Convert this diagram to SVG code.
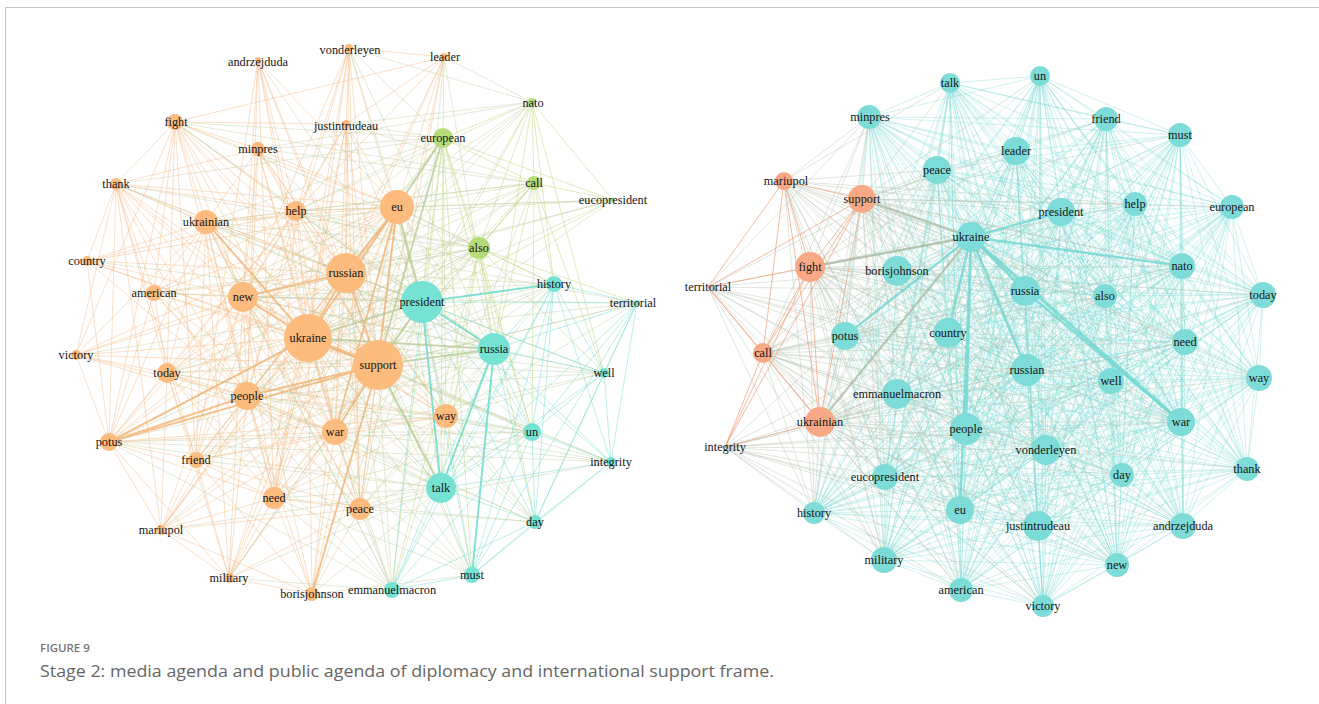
<svg xmlns="http://www.w3.org/2000/svg" width="1319" height="704" viewBox="0 0 1319 704">
<style>
.e{fill:none;stroke-linecap:round}
.eo{stroke:#f5b276;stroke-opacity:.45;stroke-width:.9}
.eot{stroke:#f5ad6a;stroke-opacity:.65;stroke-width:2}
.em{stroke:#bfcc9c;stroke-opacity:.45;stroke-width:.9}
.emt{stroke:#b3c990;stroke-opacity:.65;stroke-width:2}
.eg{stroke:#bfd77f;stroke-opacity:.55;stroke-width:.9}
.et{stroke:#6cdcca;stroke-opacity:.5;stroke-width:.9}
.ett{stroke:#5fd8c6;stroke-opacity:.7;stroke-width:2}
.rt{stroke:#72d8d2;stroke-opacity:.37;stroke-width:.9}
.rtt{stroke:#6fd6d0;stroke-opacity:.75;stroke-width:2.4}
.rm{stroke:#b3c0ad;stroke-opacity:.45;stroke-width:.9}
.rmt{stroke:#a9bca3;stroke-opacity:.7;stroke-width:2.4}
.rs{stroke:#ef9f78;stroke-opacity:.7;stroke-width:1}
.no{fill:#fdbb7e}.nt{fill:#75e2d3}.ng{fill:#b5dc79}.rn{fill:#7edcd8}.rsn{fill:#f8a884}
text{font-family:"Liberation Serif","Times New Roman",serif;font-size:12.3px;fill:#161616;text-anchor:middle}
.cap1{font-family:"Open Sans","Liberation Sans",sans-serif;font-size:11.5px;font-weight:600;fill:#777;text-anchor:start}
.cap2{font-family:"Open Sans","Liberation Sans",sans-serif;font-size:15.5px;fill:#666;text-anchor:start}
</style>
<rect width="1319" height="704" fill="#fff"/>
<path d="M5.5 704V7.5H1319" fill="none" stroke="#c4c4c4" stroke-width="1"/>
<g id="connectors">
<g id="left-edges">
<path class="e eo" d="M258 60 308 338 349 48M444 57 308 338 175 122M346 124 308 338 258 149M116 184 308 338 296 211M397 207 308 338 206 222M87 261 308 338 346 273M154 293 308 338 243 297M378 365 308 338 76 355M167 373 308 338 247 396M446 416 308 338 335 432M109 442 308 338 196 460M274 498 308 338 360 509M161 530 308 338 229 578M308 338 312 594"/>
<path class="e eo" d="M258 60 378 365 349 48M444 57 378 365 175 122M346 124 378 365 258 149M116 184 378 365 296 211M397 207 378 365 206 222M87 261 378 365 346 273M154 293 378 365 243 297M76 355 378 365 167 373M247 396 378 365 446 416M335 432 378 365 109 442M196 460 378 365 274 498M360 509 378 365 161 530M229 578 378 365 312 594"/>
<path class="e eo" d="M258 60 346 273 349 48M444 57 346 273 175 122M346 124 346 273 258 149M116 184 346 273 296 211M397 207 346 273 206 222M87 261 346 273 154 293M243 297 346 273 76 355M167 373 346 273 247 396M446 416 346 273 335 432M109 442 346 273 196 460M274 498 346 273 360 509M161 530 346 273 229 578M346 273 312 594"/>
<path class="e eo" d="M258 60 397 207 349 48M444 57 397 207 175 122M346 124 397 207 258 149M116 184 397 207 296 211M206 222 397 207 87 261M154 293 397 207 243 297M76 355 397 207 167 373M247 396 397 207 446 416M335 432 397 207 109 442M196 460 397 207 274 498M360 509 397 207 161 530M229 578 397 207 312 594"/>
<path class="e eo" d="M258 60 243 297 349 48M175 122 243 297 346 124M258 149 243 297 116 184M296 211 243 297 206 222M87 261 243 297 154 293M76 355 243 297 167 373M247 396 243 297 446 416M335 432 243 297 109 442M196 460 243 297 274 498M360 509 243 297 161 530M229 578 243 297 312 594"/>
<path class="e eo" d="M258 60 247 396 349 48M175 122 247 396 258 149M116 184 247 396 296 211M206 222 247 396 87 261M154 293 247 396 76 355M167 373 247 396 446 416M335 432 247 396 109 442M196 460 247 396 274 498M360 509 247 396 161 530M229 578 247 396 312 594"/>
<path class="e eo" d="M258 60 296 211 349 48M444 57 296 211 175 122M346 124 296 211 258 149M116 184 296 211 206 222M87 261 296 211 154 293M167 373 296 211 335 432M109 442 296 211 196 460M274 498 296 211 446 416"/>
<path class="e eo" d="M175 122 206 222 258 149M116 184 206 222 87 261M154 293 206 222 76 355M167 373 206 222 335 432M109 442 206 222 196 460M274 498 206 222 360 509M446 416 206 222 229 578"/>
<path class="e eo" d="M258 60 335 432 349 48M175 122 335 432 258 149M116 184 335 432 154 293M76 355 335 432 167 373M109 442 335 432 196 460M274 498 335 432 360 509M161 530 335 432 229 578M312 594 335 432 446 416"/>
<path class="e eo" d="M346 124 175 122 258 149M116 184 175 122 154 293M167 373 175 122 109 442M196 460 175 122 76 355M446 416 175 122 444 57M87 261 116 184 154 293M76 355 116 184 167 373M109 442 116 184 196 460M274 498 116 184 161 530M116 184 258 149M76 355 109 442 167 373M196 460 109 442 274 498M161 530 109 442 229 578M154 293 109 442 87 261M109 442 446 416M76 355 167 373 154 293M196 460 167 373 274 498M161 530 167 373 229 578M167 373 446 416"/>
<path class="e eo" d="M349 48 444 57M346 124 444 57M258 149 446 416M274 498 312 594M161 530 229 578 312 594 360 509M349 48 274 498M349 48 360 509M258 60 274 498M444 57 360 509M346 124 360 509M346 124 274 498M274 498 196 460 360 509M161 530 196 460 229 578M312 594 196 460 446 416M360 509 274 498 229 578M161 530 274 498 446 416M229 578 360 509 161 530M446 416 360 509 154 293M161 530 312 594M258 60 196 460"/>
<path class="e em" d="M532 102 308 338 443 138M534 183 308 338 613 200M479 248 308 338 554 284M422 302 308 338 637 303M494 349 308 338 604 373M532 432 308 338 611 462M441 488 308 338 535 522M472 575 308 338 392 590"/>
<path class="e em" d="M532 102 378 365 443 138M534 183 378 365 613 200M479 248 378 365 554 284M422 302 378 365 637 303M494 349 378 365 604 373M532 432 378 365 611 462M441 488 378 365 535 522M472 575 378 365 392 590"/>
<path class="e em" d="M532 102 346 273 443 138M534 183 346 273 613 200M479 248 346 273 554 284M422 302 346 273 494 349M604 373 346 273 532 432M441 488 346 273 535 522M472 575 346 273 392 590M532 102 397 207 443 138M534 183 397 207 479 248M422 302 397 207 494 349M554 284 397 207 441 488M532 432 397 207 613 200"/>
<path class="e em" d="M258 60 422 302 349 48M444 57 422 302 175 122M346 124 422 302 258 149M116 184 422 302 296 211M206 222 422 302 87 261M154 293 422 302 243 297M76 355 422 302 167 373M247 396 422 302 446 416M335 432 422 302 109 442M196 460 422 302 274 498M360 509 422 302 161 530M229 578 422 302 312 594"/>
<path class="e em" d="M296 211 494 349 206 222M243 297 494 349 247 396M167 373 494 349 446 416M335 432 494 349 274 498M360 509 494 349 109 442M196 460 494 349 116 184M175 122 494 349 444 57M494 349 349 48M247 396 441 488 243 297M335 432 441 488 274 498M360 509 441 488 312 594M229 578 441 488 161 530M446 416 441 488 167 373M109 442 441 488 196 460M206 222 441 488 296 211M247 396 392 590 335 432M360 509 392 590 274 498M229 578 392 590 446 416M167 373 392 590 109 442M243 297 392 590 206 222M335 432 472 575 360 509M446 416 472 575 274 498M247 396 472 575 312 594"/>
<path class="e em" d="M349 48 443 138 444 57M346 124 443 138 258 149M296 211 443 138 206 222M175 122 443 138 243 297M247 396 443 138 446 416M335 432 443 138 116 184M444 57 532 102 349 48M296 211 532 102 243 297M258 149 532 102 346 124M296 211 534 183 206 222M243 297 534 183 247 396M175 122 534 183 258 149M346 124 534 183 446 416M296 211 479 248 243 297M247 396 479 248 206 222M175 122 479 248 335 432M446 416 479 248 167 373M109 442 479 248 154 293M479 248 116 184M296 211 613 200 243 297M613 200 206 222"/>
<path class="e em" d="M243 297 554 284 247 396M296 211 554 284 446 416M554 284 335 432M247 396 532 432 335 432M446 416 532 432 360 509M274 498 532 432 243 297M167 373 532 432 109 442M247 396 604 373 243 297M446 416 604 373 335 432M247 396 611 462 335 432M446 416 611 462 109 442M611 462 360 509M247 396 535 522 335 432M446 416 535 522 274 498M535 522 360 509M243 297 637 303 247 396M446 416 637 303 206 222"/>
<path class="e eg" d="M532 102 443 138 534 183M479 248 443 138 613 200M532 102 534 183 479 248M532 102 479 248M532 102 613 200 534 183M443 138 422 302 479 248M494 349 479 248 534 183 494 349M443 138 494 349M532 102 554 284M534 183 554 284 479 248M532 102 494 349M443 138 441 488 479 248M534 183 422 302M613 200 422 302M532 102 422 302M443 138 532 432 479 248M534 183 532 432M443 138 392 590 479 248M479 248 637 303M534 183 604 373 479 248M443 138 472 575M479 248 535 522M532 102 604 373"/>
<path class="e et" d="M554 284 422 302 637 303M494 349 422 302 604 373M532 432 422 302 611 462M441 488 422 302 535 522M472 575 422 302 392 590M554 284 494 349 637 303M604 373 494 349 532 432M611 462 494 349 441 488M535 522 494 349 472 575M494 349 392 590M554 284 441 488 637 303M604 373 441 488 532 432M611 462 441 488 535 522M472 575 441 488 392 590M554 284 532 432 637 303M604 373 532 432 611 462M535 522 532 432 472 575M532 432 392 590M637 303 554 284 604 373M611 462 554 284 535 522M472 575 554 284 392 590M604 373 637 303 611 462M535 522 637 303 472 575M604 373 611 462 535 522 604 373M535 522 472 575 392 590 535 522M611 462 472 575"/>
<path class="e eot" d="M308 338 346 273M378 365 346 273M378 365 397 207M346 273 397 207M308 338 397 207M378 365 247 396M308 338 109 442M378 365 109 442M308 338 243 297M308 338 206 222M378 365 335 432M378 365 312 594M397 207 335 432M346 273 243 297M247 396 109 442"/>
<path class="e eot" style="stroke-width:4" d="M308 338 378 365"/>
<path class="e emt" d="M422 302 378 365M422 302 308 338M422 302 397 207M378 365 494 349M378 365 441 488M308 338 494 349M443 138 378 365M443 138 397 207"/>
<path class="e ett" d="M422 302 494 349M422 302 441 488M494 349 441 488M422 302 554 284M494 349 472 575"/>
</g>
<g id="right-edges">
<polygon class="e rt" points="950 83 1040 76 1106 119 1180 135 1232 207 1263 295 1259 378 1247 469 1183 526 1117 565 1043 606 961 590 884 560 814 513 885 477 897 394 845 336 897 271 869 117 937 170 1016 151 1061 212 1135 204 1182 266 1185 342 1181 422 1122 475 1038 526 960 510 966 429 1046 450 1111 381 1027 370 1105 296 1025 291 948 333 971 237"/>
<polygon class="e rt" points="950 83 1106 119 1232 207 1259 378 1183 526 1043 606 884 560 885 477 845 336 869 117 1016 151 1135 204 1185 342 1122 475 960 510 1046 450 1027 370 1025 291 971 237 1040 76 1180 135 1263 295 1247 469 1117 565 961 590 814 513 897 394 897 271 937 170 1061 212 1182 266 1181 422 1038 526 966 429 1111 381 1105 296 948 333"/>
<polygon class="e rt" points="950 83 1180 135 1259 378 1117 565 884 560 897 394 869 117 1061 212 1185 342 1038 526 1046 450 1105 296 971 237 1106 119 1263 295 1183 526 961 590 885 477 897 271 1016 151 1182 266 1122 475 966 429 1027 370 948 333 1040 76 1232 207 1247 469 1043 606 814 513 845 336 937 170 1135 204 1181 422 960 510 1111 381 1025 291"/>
<polygon class="e rt" points="950 83 1232 207 1183 526 884 560 845 336 1016 151 1185 342 960 510 1027 370 971 237 1180 135 1247 469 961 590 897 394 937 170 1182 266 1038 526 1111 381 948 333 1106 119 1259 378 1043 606 885 477 869 117 1135 204 1122 475 1046 450 1025 291 1040 76 1263 295 1117 565 814 513 897 271 1061 212 1181 422 966 429 1105 296"/>
<polygon class="e rt" points="950 83 1263 295 1043 606 897 394 1016 151 1181 422 1046 450 948 333 1180 135 1183 526 814 513 869 117 1182 266 960 510 1105 296 1040 76 1259 378 961 590 845 336 1061 212 1122 475 1111 381 971 237 1232 207 1117 565 885 477 937 170 1185 342 966 429 1025 291 1106 119 1247 469 884 560 897 271 1135 204 1038 526 1027 370"/>
<polygon class="e rt" points="950 83 1259 378 884 560 869 117 1185 342 1046 450 971 237 1263 295 961 590 897 271 1182 266 966 429 948 333 1232 207 1043 606 845 336 1135 204 960 510 1025 291 1180 135 1117 565 897 394 1061 212 1038 526 1105 296 1106 119 1183 526 885 477 1016 151 1122 475 1027 370 1040 76 1247 469 814 513 937 170 1181 422 1111 381"/>
<polygon class="e rt" points="950 83 1247 469 885 477 1061 212 960 510 948 333 1263 295 884 560 937 170 1122 475 1105 296 1180 135 1043 606 897 271 1185 342 1111 381 1040 76 1183 526 897 394 1135 204 966 429 971 237 1259 378 814 513 1016 151 1038 526 1025 291 1232 207 961 590 869 117 1181 422 1027 370 1106 119 1117 565 845 336 1182 266 1046 450"/>
<polygon class="e rt" points="950 83 1183 526 845 336 1185 342 1027 370 1180 135 961 590 937 170 1038 526 948 333 1259 378 885 477 1135 204 1046 450 1040 76 1117 565 897 271 1181 422 1105 296 1232 207 884 560 1016 151 960 510 971 237 1247 469 897 394 1182 266 1111 381 1106 119 1043 606 869 117 1122 475 1025 291 1263 295 814 513 1061 212 966 429"/>
<polygon class="e rt" points="950 83 1117 565 869 117 1038 526 971 237 1183 526 897 271 1122 475 948 333 1247 469 845 336 1181 422 1025 291 1259 378 897 394 1185 342 1105 296 1263 295 885 477 1182 266 1027 370 1232 207 814 513 1135 204 1111 381 1180 135 884 560 1061 212 1046 450 1106 119 961 590 1016 151 966 429 1040 76 1043 606 937 170 960 510"/>
<polygon class="e rt" points="950 83 1043 606 1016 151 1046 450 1180 135 814 513 1182 266 1105 296 1259 378 845 336 1122 475 971 237 1117 565 937 170 966 429 1106 119 884 560 1135 204 1027 370 1263 295 897 394 1181 422 948 333 1183 526 869 117 960 510 1040 76 961 590 1061 212 1111 381 1232 207 885 477 1185 342 1025 291 1247 469 897 271 1038 526"/>
<polygon class="e rt" points="950 83 961 590 1135 204 1105 296 1247 469 869 117 966 429 1180 135 885 477 1181 422 971 237 1043 606 1061 212 1027 370 1259 378 897 271 960 510 1106 119 814 513 1185 342 948 333 1117 565 1016 151 1111 381 1263 295 845 336 1038 526 1040 76 884 560 1182 266 1025 291 1183 526 937 170 1046 450 1232 207 897 394 1122 475"/>
<polygon class="e rt" points="950 83 884 560 1185 342 971 237 961 590 1182 266 948 333 1043 606 1135 204 1025 291 1117 565 1061 212 1105 296 1183 526 1016 151 1027 370 1247 469 937 170 1111 381 1259 378 869 117 1046 450 1263 295 897 271 966 429 1232 207 845 336 960 510 1180 135 897 394 1038 526 1106 119 885 477 1122 475 1040 76 814 513 1181 422"/>
<polygon class="e rt" points="950 83 814 513 1122 475 1106 119 897 394 960 510 1232 207 897 271 1046 450 1259 378 937 170 1027 370 1183 526 1061 212 1025 291 1043 606 1182 266 971 237 884 560 1181 422 1040 76 885 477 1038 526 1180 135 845 336 966 429 1263 295 869 117 1111 381 1247 469 1016 151 1105 296 1117 565 1135 204 948 333 961 590 1185 342"/>
<polygon class="e rt" points="950 83 885 477 960 510 1263 295 937 170 1105 296 1043 606 1185 342 1040 76 897 394 966 429 1259 378 1016 151 1025 291 961 590 1181 422 1106 119 845 336 1046 450 1247 469 1061 212 948 333 884 560 1122 475 1180 135 897 271 1111 381 1183 526 1135 204 971 237 814 513 1038 526 1232 207 869 117 1027 370 1117 565 1182 266"/>
<polygon class="e rt" points="950 83 897 394 1046 450 1183 526 1182 266 1040 76 845 336 1111 381 1117 565 1185 342 1106 119 897 271 1027 370 1043 606 1181 422 1180 135 869 117 1105 296 961 590 1122 475 1232 207 937 170 1025 291 884 560 1038 526 1263 295 1016 151 948 333 814 513 960 510 1259 378 1061 212 971 237 885 477 966 429 1247 469 1135 204"/>
<polygon class="e rt" points="950 83 845 336 1027 370 961 590 1038 526 1259 378 1135 204 1040 76 897 271 1105 296 884 560 960 510 1247 469 1182 266 1106 119 869 117 1025 291 814 513 966 429 1183 526 1185 342 1180 135 937 170 948 333 885 477 1046 450 1117 565 1181 422 1232 207 1016 151 971 237 897 394 1111 381 1043 606 1122 475 1263 295 1061 212"/>
<polygon class="e rt" points="950 83 897 271 1025 291 885 477 1111 381 961 590 960 510 1183 526 1181 422 1263 295 1135 204 1106 119 937 170 971 237 845 336 1105 296 814 513 1046 450 1043 606 1038 526 1247 469 1185 342 1232 207 1061 212 1040 76 869 117 948 333 897 394 1027 370 884 560 966 429 1117 565 1122 475 1259 378 1182 266 1180 135 1016 151"/>
<polygon class="e rt" points="950 83 869 117 971 237 897 271 948 333 845 336 1025 291 897 394 1105 296 885 477 1027 370 814 513 1111 381 884 560 1046 450 961 590 966 429 1043 606 960 510 1117 565 1038 526 1183 526 1122 475 1247 469 1181 422 1259 378 1185 342 1263 295 1182 266 1232 207 1135 204 1180 135 1061 212 1106 119 1016 151 1040 76 937 170"/>
<path class="e rm" d="M869 117 784 181 937 170M950 83 784 181 971 237M897 271 784 181 845 336M948 333 784 181 897 394M966 429 784 181 885 477M814 513 784 181 960 510M1027 370 784 181 1061 212M1025 291 784 181 884 560M1135 204 784 181 1105 296M1046 450 784 181 1185 342M1181 422 784 181 1182 266"/>
<path class="e rm" d="M869 117 862 199 950 83M937 170 862 199 1016 151M971 237 862 199 1061 212M1135 204 862 199 897 271M845 336 862 199 948 333M1025 291 862 199 1105 296M1182 266 862 199 897 394M966 429 862 199 1027 370M885 477 862 199 814 513M960 510 862 199 884 560M961 590 862 199 1038 526M1046 450 862 199 1111 381M1185 342 862 199 1181 422M1122 475 862 199 1232 207M1263 295 862 199 1259 378M1117 565 862 199 1180 135M1040 76 862 199 1106 119"/>
<path class="e rm" d="M869 117 810 267 937 170M971 237 810 267 897 271M845 336 810 267 948 333M1025 291 810 267 1061 212M897 394 810 267 966 429M1027 370 810 267 885 477M814 513 810 267 960 510M884 560 810 267 961 590M1038 526 810 267 1046 450M1105 296 810 267 1182 266M1185 342 810 267 1181 422M1111 381 810 267 1122 475M1117 565 810 267 1183 526M1043 606 810 267 1016 151M1135 204 810 267 1263 295M810 267 1259 378"/>
<path class="e rm" d="M845 336 763 353 897 271M948 333 763 353 897 394M885 477 763 353 814 513M966 429 763 353 884 560M960 510 763 353 961 590M971 237 763 353 1025 291M1027 370 763 353 1046 450M1038 526 763 353 1043 606M1117 565 763 353 1122 475M1181 422 763 353 1111 381M1185 342 763 353 1105 296M1182 266 763 353 937 170M869 117 763 353 1061 212"/>
<path class="e rm" d="M897 394 820 422 845 336M897 271 820 422 885 477M814 513 820 422 884 560M961 590 820 422 960 510M966 429 820 422 948 333M971 237 820 422 1025 291M1027 370 820 422 1046 450M1038 526 820 422 1043 606M1117 565 820 422 1122 475M1181 422 820 422 1111 381M1185 342 820 422 1105 296M1182 266 820 422 1061 212M1183 526 820 422 1247 469M1259 378 820 422 1263 295M937 170 820 422 869 117"/>
<path class="e rm" d="M845 336 708 287 897 271M897 394 708 287 885 477M814 513 708 287 884 560M948 333 708 287 966 429M960 510 708 287 971 237M1025 291 708 287 1027 370M869 117 708 287 937 170M708 287 1181 422M814 513 725 447 885 477M897 394 725 447 845 336M884 560 725 447 961 590M960 510 725 447 966 429M948 333 725 447 1027 370M1046 450 725 447 1038 526M1043 606 725 447 1122 475M1181 422 725 447 1185 342M725 447 1117 565"/>
<path class="e rs" d="M810 267 708 287 763 353M820 422 708 287 784 181M708 287 862 199M763 353 725 447 820 422M810 267 725 447 862 199M763 353 784 181 810 267M820 422 784 181 862 199M810 267 862 199 820 422M763 353 862 199M810 267 820 422M810 267 763 353 820 422"/>
<path class="e rtt" d="M971 237 1025 291M971 237 1182 266M971 237 966 429M971 237 1027 370M971 237 948 333M971 237 960 510M1025 291 1181 422M971 237 1061 212M971 237 845 336"/>
<path class="e rtt" style="stroke-width:3.4" d="M971 237 1181 422"/>
<path class="e rmt" d="M971 237 810 267M971 237 820 422M971 237 862 199"/>
</g>
</g>
<g id="L-andrzejduda"><circle class="no" cx="258" cy="60" r="3"/><text x="258" y="66">andrzejduda</text></g>
<g id="L-vonderleyen"><circle class="no" cx="349" cy="48" r="4"/><text x="350" y="54">vonderleyen</text></g>
<g id="L-leader"><circle class="no" cx="444" cy="57" r="4"/><text x="445" y="61">leader</text></g>
<g id="L-nato"><circle class="ng" cx="532" cy="102" r="4"/><text x="533" y="107">nato</text></g>
<g id="L-fight"><circle class="no" cx="175" cy="122" r="8"/><text x="176" y="126">fight</text></g>
<g id="L-justintrudeau"><circle class="no" cx="346" cy="124" r="4"/><text x="346" y="130">justintrudeau</text></g>
<g id="L-european"><circle class="ng" cx="443" cy="138" r="10"/><text x="443" y="142">european</text></g>
<g id="L-minpres"><circle class="no" cx="258" cy="149" r="7"/><text x="258" y="153">minpres</text></g>
<g id="L-thank"><circle class="no" cx="116" cy="184" r="6"/><text x="116" y="188">thank</text></g>
<g id="L-call"><circle class="ng" cx="534" cy="183" r="7"/><text x="534" y="187">call</text></g>
<g id="L-eucopresident"><circle class="ng" cx="613" cy="200" r="2"/><text x="613" y="204">eucopresident</text></g>
<g id="L-help"><circle class="no" cx="296" cy="211" r="10"/><text x="296" y="215">help</text></g>
<g id="L-eu"><circle class="no" cx="397" cy="207" r="17"/><text x="397" y="211">eu</text></g>
<g id="L-ukrainian"><circle class="no" cx="206" cy="222" r="12"/><text x="206" y="226">ukrainian</text></g>
<g id="L-country"><circle class="no" cx="87" cy="261" r="5"/><text x="87" y="265">country</text></g>
<g id="L-also"><circle class="ng" cx="479" cy="248" r="11"/><text x="479" y="252">also</text></g>
<g id="L-russian"><circle class="no" cx="346" cy="273" r="20"/><text x="346" y="277">russian</text></g>
<g id="L-history"><circle class="nt" cx="554" cy="284" r="8"/><text x="554" y="288">history</text></g>
<g id="L-american"><circle class="no" cx="154" cy="293" r="8"/><text x="154" y="297">american</text></g>
<g id="L-new"><circle class="no" cx="243" cy="297" r="15"/><text x="243" y="301">new</text></g>
<g id="L-president"><circle class="nt" cx="422" cy="302" r="21"/><text x="422" y="306">president</text></g>
<g id="L-territorial"><circle class="nt" cx="637" cy="303" r="3"/><text x="633" y="307">territorial</text></g>
<g id="L-ukraine"><circle class="no" cx="308" cy="338" r="24"/><text x="308" y="342">ukraine</text></g>
<g id="L-support"><circle class="no" cx="378" cy="365" r="25"/><text x="378" y="369">support</text></g>
<g id="L-russia"><circle class="nt" cx="494" cy="349" r="16"/><text x="494" y="353">russia</text></g>
<g id="L-victory"><circle class="no" cx="76" cy="355" r="5"/><text x="76" y="359">victory</text></g>
<g id="L-today"><circle class="no" cx="167" cy="373" r="10"/><text x="167" y="377">today</text></g>
<g id="L-well"><circle class="nt" cx="604" cy="373" r="5"/><text x="604" y="377">well</text></g>
<g id="L-people"><circle class="no" cx="247" cy="396" r="14"/><text x="247" y="400">people</text></g>
<g id="L-way"><circle class="no" cx="446" cy="416" r="12"/><text x="446" y="420">way</text></g>
<g id="L-war"><circle class="no" cx="335" cy="432" r="13"/><text x="335" y="436">war</text></g>
<g id="L-un"><circle class="nt" cx="532" cy="432" r="9"/><text x="532" y="436">un</text></g>
<g id="L-potus"><circle class="no" cx="109" cy="442" r="9"/><text x="109" y="446">potus</text></g>
<g id="L-friend"><circle class="no" cx="196" cy="460" r="8"/><text x="196" y="464">friend</text></g>
<g id="L-integrity"><circle class="nt" cx="611" cy="462" r="5"/><text x="611" y="466">integrity</text></g>
<g id="L-talk"><circle class="nt" cx="441" cy="488" r="15"/><text x="441" y="492">talk</text></g>
<g id="L-need"><circle class="no" cx="274" cy="498" r="11"/><text x="274" y="502">need</text></g>
<g id="L-peace"><circle class="no" cx="360" cy="509" r="11"/><text x="360" y="513">peace</text></g>
<g id="L-day"><circle class="nt" cx="535" cy="522" r="7"/><text x="535" y="526">day</text></g>
<g id="L-mariupol"><circle class="no" cx="161" cy="530" r="5"/><text x="161" y="534">mariupol</text></g>
<g id="L-military"><circle class="no" cx="229" cy="578" r="5"/><text x="229" y="582">military</text></g>
<g id="L-must"><circle class="nt" cx="472" cy="575" r="8"/><text x="472" y="579">must</text></g>
<g id="L-borisjohnson"><circle class="no" cx="312" cy="594" r="7"/><text x="312" y="598">borisjohnson</text></g>
<g id="L-emmanuelmacron"><circle class="nt" cx="392" cy="590" r="8"/><text x="392" y="594">emmanuelmacron</text></g>
<g id="R-talk"><circle class="rn" cx="950" cy="83" r="10"/><text x="950" y="87">talk</text></g>
<g id="R-un"><circle class="rn" cx="1040" cy="76" r="10"/><text x="1040" y="80">un</text></g>
<g id="R-minpres"><circle class="rn" cx="869" cy="117" r="12"/><text x="870" y="121">minpres</text></g>
<g id="R-friend"><circle class="rn" cx="1106" cy="119" r="12"/><text x="1106" y="123">friend</text></g>
<g id="R-must"><circle class="rn" cx="1180" cy="135" r="12"/><text x="1180" y="139">must</text></g>
<g id="R-leader"><circle class="rn" cx="1016" cy="151" r="14"/><text x="1016" y="155">leader</text></g>
<g id="R-peace"><circle class="rn" cx="937" cy="170" r="14"/><text x="937" y="174">peace</text></g>
<g id="R-mariupol"><circle class="rsn" cx="784" cy="181" r="9"/><text x="786" y="185">mariupol</text></g>
<g id="R-support"><circle class="rsn" cx="862" cy="199" r="14"/><text x="862" y="203">support</text></g>
<g id="R-president"><circle class="rn" cx="1061" cy="212" r="14"/><text x="1061" y="216">president</text></g>
<g id="R-help"><circle class="rn" cx="1135" cy="204" r="12"/><text x="1135" y="208">help</text></g>
<g id="R-european"><circle class="rn" cx="1232" cy="207" r="12"/><text x="1232" y="211">european</text></g>
<g id="R-ukraine"><circle class="rn" cx="971" cy="237" r="15"/><text x="971" y="241">ukraine</text></g>
<g id="R-fight"><circle class="rsn" cx="810" cy="267" r="15"/><text x="810" y="271">fight</text></g>
<g id="R-borisjohnson"><circle class="rn" cx="897" cy="271" r="15"/><text x="897" y="275">borisjohnson</text></g>
<g id="R-territorial"><text x="708" y="291">territorial</text></g>
<g id="R-nato"><circle class="rn" cx="1182" cy="266" r="13"/><text x="1182" y="270">nato</text></g>
<g id="R-russia"><circle class="rn" cx="1025" cy="291" r="15"/><text x="1025" y="295">russia</text></g>
<g id="R-also"><circle class="rn" cx="1105" cy="296" r="12"/><text x="1105" y="300">also</text></g>
<g id="R-today"><circle class="rn" cx="1263" cy="295" r="13"/><text x="1263" y="299">today</text></g>
<g id="R-potus"><circle class="rn" cx="845" cy="336" r="14"/><text x="845" y="340">potus</text></g>
<g id="R-country"><circle class="rn" cx="948" cy="333" r="15"/><text x="948" y="337">country</text></g>
<g id="R-need"><circle class="rn" cx="1185" cy="342" r="13"/><text x="1185" y="346">need</text></g>
<g id="R-call"><circle class="rsn" cx="763" cy="353" r="10"/><text x="763" y="357">call</text></g>
<g id="R-russian"><circle class="rn" cx="1027" cy="370" r="16"/><text x="1027" y="374">russian</text></g>
<g id="R-well"><circle class="rn" cx="1111" cy="381" r="13"/><text x="1111" y="385">well</text></g>
<g id="R-way"><circle class="rn" cx="1259" cy="378" r="13"/><text x="1259" y="382">way</text></g>
<g id="R-emmanuelmacron"><circle class="rn" cx="897" cy="394" r="15"/><text x="897" y="398">emmanuelmacron</text></g>
<g id="R-ukrainian"><circle class="rsn" cx="820" cy="422" r="15"/><text x="820" y="426">ukrainian</text></g>
<g id="R-people"><circle class="rn" cx="966" cy="429" r="16"/><text x="966" y="433">people</text></g>
<g id="R-war"><circle class="rn" cx="1181" cy="422" r="14"/><text x="1181" y="426">war</text></g>
<g id="R-integrity"><text x="725" y="451">integrity</text></g>
<g id="R-vonderleyen"><circle class="rn" cx="1046" cy="450" r="15"/><text x="1046" y="454">vonderleyen</text></g>
<g id="R-eucopresident"><circle class="rn" cx="885" cy="477" r="13"/><text x="885" y="481">eucopresident</text></g>
<g id="R-day"><circle class="rn" cx="1122" cy="475" r="12"/><text x="1122" y="479">day</text></g>
<g id="R-thank"><circle class="rn" cx="1247" cy="469" r="12"/><text x="1247" y="473">thank</text></g>
<g id="R-history"><circle class="rn" cx="814" cy="513" r="11"/><text x="814" y="517">history</text></g>
<g id="R-eu"><circle class="rn" cx="960" cy="510" r="14"/><text x="960" y="514">eu</text></g>
<g id="R-justintrudeau"><circle class="rn" cx="1038" cy="526" r="15"/><text x="1038" y="530">justintrudeau</text></g>
<g id="R-andrzejduda"><circle class="rn" cx="1183" cy="526" r="13"/><text x="1183" y="530">andrzejduda</text></g>
<g id="R-military"><circle class="rn" cx="884" cy="560" r="13"/><text x="884" y="564">military</text></g>
<g id="R-new"><circle class="rn" cx="1117" cy="565" r="12"/><text x="1117" y="569">new</text></g>
<g id="R-american"><circle class="rn" cx="961" cy="590" r="12"/><text x="961" y="594">american</text></g>
<g id="R-victory"><circle class="rn" cx="1043" cy="606" r="11"/><text x="1043" y="610">victory</text></g>
<text class="cap1" x="40" y="652">FIGURE 9</text>
<text class="cap2" x="40" y="677" textLength="734" lengthAdjust="spacingAndGlyphs">Stage 2: media agenda and public agenda of diplomacy and international support frame.</text>
</svg>
